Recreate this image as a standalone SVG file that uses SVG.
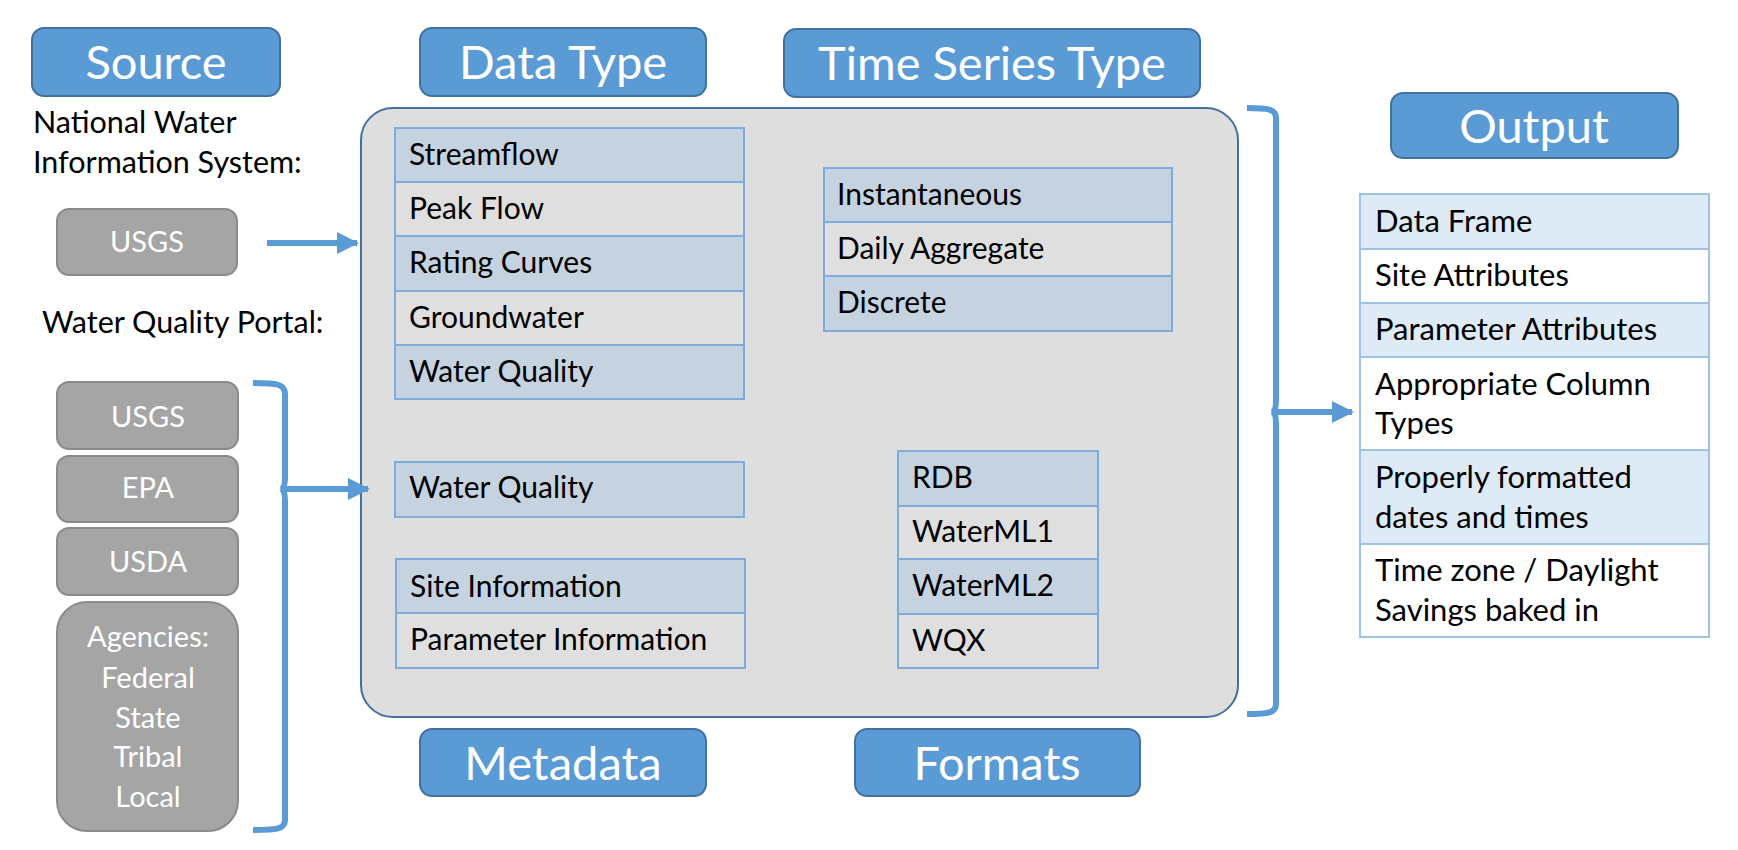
<svg xmlns="http://www.w3.org/2000/svg" width="1738" height="850" viewBox="0 0 1738 850">
<style>
.title{fill:#5b9bd5;stroke:#41719c;stroke-width:2}
.tt{font-family:Lato,"Liberation Sans",sans-serif;font-size:47px;fill:#fff;text-anchor:middle}
.gray{fill:#a5a5a5;stroke:#8a8a8a;stroke-width:2}
.gt{font-family:Lato,"Liberation Sans",sans-serif;font-size:29px;fill:#fff;text-anchor:middle}
.lbl{font-family:Lato,"Liberation Sans",sans-serif;font-size:30.5px;fill:#000}
.dk{fill:#c5d2df;stroke:#7fabdc;stroke-width:2}
.lt{fill:#dfdfdf;stroke:#7fabdc;stroke-width:2}
.li{font-family:Lato,"Liberation Sans",sans-serif;font-size:30px;fill:#000}
.oi{font-family:Lato,"Liberation Sans",sans-serif;font-size:31px;fill:#000}
.od{fill:#deebf7;stroke:#9dc3e6;stroke-width:2}
.ol{fill:#ffffff;stroke:#9dc3e6;stroke-width:2}
.con{fill:none;stroke:#5b9bd5;stroke-width:6}
</style>
<defs>
<marker id="ah" markerWidth="22" markerHeight="22" refX="20" refY="11" orient="auto" markerUnits="userSpaceOnUse">
<path d="M0,0 L22,11 L0,22 Z" fill="#5b9bd5"/>
</marker>
</defs>

<g id="container">
<rect x="361" y="108" width="877" height="609" rx="32" fill="#dedede" stroke="#41719c" stroke-width="2"/>
</g>

<g id="source">
<rect class="title" x="32" y="28" width="248" height="68" rx="12"/>
<text class="tt" x="156" y="79">Source</text>
</g>
<g id="nwis-label">
<text class="lbl" x="33" y="133">National Water</text>
<text class="lbl" x="33" y="173">Information System:</text>
</g>
<g id="nwis-usgs">
<rect class="gray" x="57" y="209" width="180" height="66" rx="12"/>
<text class="gt" x="147" y="252">USGS</text>
</g>
<g id="wqp-label">
<text class="lbl" x="42" y="333">Water Quality Portal:</text>
</g>
<g id="wqp-usgs">
<rect class="gray" x="57" y="382" width="181" height="67" rx="12"/>
<text class="gt" x="148" y="427">USGS</text>
</g>
<g id="wqp-epa">
<rect class="gray" x="57" y="456" width="181" height="66" rx="12"/>
<text class="gt" x="148" y="498">EPA</text>
</g>
<g id="wqp-usda">
<rect class="gray" x="57" y="528" width="181" height="67" rx="12"/>
<text class="gt" x="148" y="572">USDA</text>
</g>
<g id="wqp-agencies">
<rect class="gray" x="57" y="602" width="181" height="229" rx="30"/>
<text class="gt" x="148" y="647">Agencies:</text>
<text class="gt" x="148" y="688">Federal</text>
<text class="gt" x="148" y="728">State</text>
<text class="gt" x="148" y="767">Tribal</text>
<text class="gt" x="148" y="807">Local</text>
</g>

<g id="data-type">
<rect class="title" x="420" y="28" width="286" height="68" rx="12"/>
<text class="tt" x="563" y="79">Data Type</text>
</g>
<g id="time-series-type">
<rect class="title" x="784" y="29" width="416" height="68" rx="12"/>
<text class="tt" x="992" y="80">Time Series Type</text>
</g>
<g id="metadata">
<rect class="title" x="420" y="729" width="286" height="67" rx="12"/>
<text class="tt" x="563" y="780">Metadata</text>
</g>
<g id="formats">
<rect class="title" x="855" y="729" width="285" height="67" rx="12"/>
<text class="tt" x="997" y="780">Formats</text>
</g>
<g id="output">
<rect class="title" x="1391" y="93" width="287" height="65" rx="12"/>
<text class="tt" x="1534" y="143">Output</text>
</g>

<g id="data-type-list">
<rect class="dk" x="395" y="128" width="349" height="54"/>
<rect class="lt" x="395" y="182" width="349" height="54"/>
<rect class="dk" x="395" y="236" width="349" height="55"/>
<rect class="lt" x="395" y="291" width="349" height="54"/>
<rect class="dk" x="395" y="345" width="349" height="54"/>
<text class="li" x="409" y="165">Streamflow</text>
<text class="li" x="409" y="219">Peak Flow</text>
<text class="li" x="409" y="273">Rating Curves</text>
<text class="li" x="409" y="328">Groundwater</text>
<text class="li" x="409" y="382">Water Quality</text>
</g>

<g id="time-series-list">
<rect class="dk" x="824" y="168" width="348" height="54"/>
<rect class="lt" x="824" y="222" width="348" height="54"/>
<rect class="dk" x="824" y="276" width="348" height="55"/>
<text class="li" x="837" y="205">Instantaneous</text>
<text class="li" x="837" y="259">Daily Aggregate</text>
<text class="li" x="837" y="313">Discrete</text>
</g>

<g id="wq-data">
<rect class="dk" x="395" y="462" width="349" height="55"/>
<text class="li" x="409" y="498">Water Quality</text>
</g>

<g id="metadata-list">
<rect class="dk" x="396" y="559" width="349" height="54"/>
<rect class="lt" x="396" y="613" width="349" height="55"/>
<text class="li" x="410" y="597">Site Information</text>
<text class="li" x="410" y="650">Parameter Information</text>
</g>

<g id="formats-list">
<rect class="dk" x="898" y="451" width="200" height="55"/>
<rect class="lt" x="898" y="506" width="200" height="53"/>
<rect class="dk" x="898" y="559" width="200" height="55"/>
<rect class="lt" x="898" y="614" width="200" height="54"/>
<text class="li" x="912" y="488">RDB</text>
<text class="li" x="912" y="542">WaterML1</text>
<text class="li" x="912" y="596">WaterML2</text>
<text class="li" x="912" y="651">WQX</text>
</g>

<g id="output-list">
<rect class="od" x="1360" y="194" width="349" height="55"/>
<rect class="ol" x="1360" y="249" width="349" height="54"/>
<rect class="od" x="1360" y="303" width="349" height="54"/>
<rect class="ol" x="1360" y="357" width="349" height="93"/>
<rect class="od" x="1360" y="450" width="349" height="94"/>
<rect class="ol" x="1360" y="544" width="349" height="93"/>
<text class="oi" x="1375" y="232">Data Frame</text>
<text class="oi" x="1375" y="286">Site Attributes</text>
<text class="oi" x="1375" y="340">Parameter Attributes</text>
<text class="oi" x="1375" y="395">Appropriate Column</text>
<text class="oi" x="1375" y="434">Types</text>
<text class="oi" x="1375" y="488">Properly formatted</text>
<text class="oi" x="1375" y="528">dates and times</text>
<text class="oi" x="1375" y="581">Time zone / Daylight</text>
<text class="oi" x="1375" y="621">Savings baked in</text>
</g>

<g id="connectors">
<line class="con" x1="267" y1="243" x2="357" y2="243" marker-end="url(#ah)"/>
<path class="con" d="M253,383 C277,383 285,384 285,394 L285,478 Q285,488 281,489 Q285,490 285,500 L285,820 C285,829 277,830 253,830"/>
<line class="con" x1="283" y1="489" x2="368" y2="489" marker-end="url(#ah)"/>
<path class="con" d="M1247,108 C1268,108 1276,109 1276,118 L1276,401 Q1276,411 1272,412 Q1276,413 1276,423 L1276,704 C1276,713 1268,714 1247,714"/>
<line class="con" x1="1274" y1="412" x2="1352" y2="412" marker-end="url(#ah)"/>
</g>
</svg>
